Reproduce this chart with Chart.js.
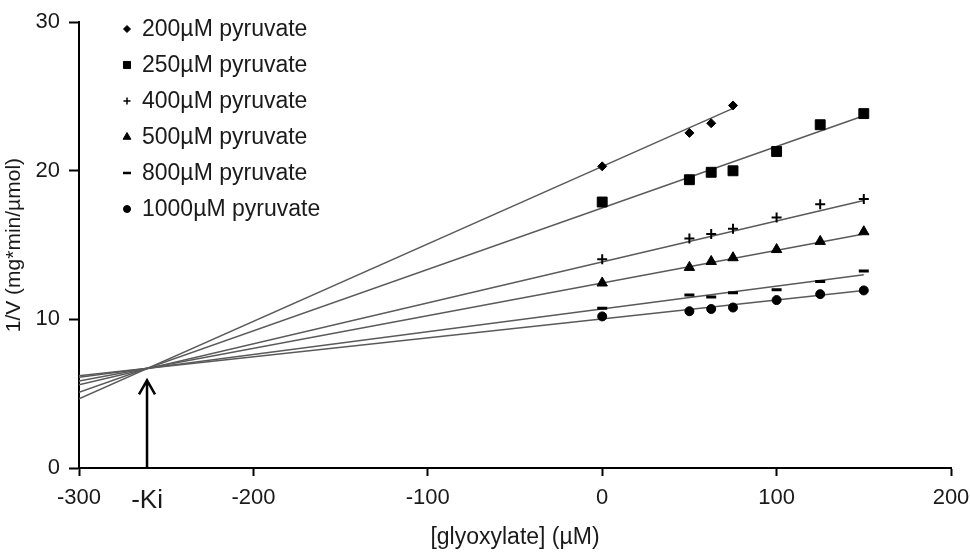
<!DOCTYPE html>
<html>
<head>
<meta charset="utf-8">
<script src="https://cdn.jsdelivr.net/npm/chart.js@4"></script>
<style>
  html, body { margin: 0; padding: 0; background: #fff; }
  #wrap { width: 970px; height: 554px; }
</style>
</head>
<body>
<div id="wrap"><canvas id="chart" width="970" height="554"></canvas></div>
<script>
// glyoxylate concentrations (µM)
const glyoxylate = [0, 50, 62.5, 75, 100, 125, 150];

// measured 1/V values per pyruvate concentration
const pyr200 = [20.3, 22.55, 23.2, 24.4];
const pyr250 = [17.9, 19.4, 19.9, 20.0, 21.3, 23.1, 23.85];
const pyr400 = [14.05, 15.45, 15.75, 16.1, 16.85, 17.75, 18.1];
const pyr500 = [12.45, 13.5, 13.9, 14.15, 14.7, 15.25, 15.9];
const pyr800 = [10.75, 11.65, 11.5, 11.8, 12.0, 12.55, 13.25];
const pyr1000 = [10.2, 10.55, 10.7, 10.8, 11.3, 11.7, 11.95];

// fitted lines (x range and end values)
const fitX = [-300, 150];
const fitX200 = [-300, 75];
const fit200 = [4.65, 24.2];
const fit250 = [5.1, 23.7];
const fit400 = [5.6, 18.0];
const fit500 = [5.85, 15.75];
const fit800 = [6.1, 13.0];
const fit1000 = [6.2, 11.95];

// -Ki arrow
const kiX = -261;
const arrowTop = 5.9;

const labels = ['200µM pyruvate', '250µM pyruvate', '400µM pyruvate',
                '500µM pyruvate', '800µM pyruvate', '1000µM pyruvate'];
const xTicks = [-300, -200, -100, 0, 100, 200];

const FONT = '"Liberation Sans", Arial, sans-serif';
const INK = '#1a1a1a';
const pts = (ys) => ys.map((y, i) => ({ x: glyoxylate[i], y }));
const line = (xs, ys) => xs.map((x, i) => ({ x, y: ys[i] }));

const styles = [
  { pointStyle: 'rectRot', radius: 4.5, bw: 1, leg: 3.5 },
  { pointStyle: 'rect', radius: 7, bw: 1, leg: 5 },
  { pointStyle: 'cross', radius: 5, bw: 2, leg: 3.5 },
  { pointStyle: 'triangle', radius: 6, bw: 1, leg: 4.5 },
  { pointStyle: 'line', radius: 5, bw: 3, leg: 4 },
  { pointStyle: 'circle', radius: 4.5, bw: 1, leg: 3.5 }
];
const series = [pyr200, pyr250, pyr400, pyr500, pyr800, pyr1000];
const fits = [line(fitX200, fit200), line(fitX, fit250), line(fitX, fit400),
              line(fitX, fit500), line(fitX, fit800), line(fitX, fit1000)];

const datasets = [];
series.forEach((s, i) => {
  datasets.push({
    label: labels[i], data: pts(s), showLine: false, order: 0,
    pointStyle: styles[i].pointStyle, pointRadius: styles[i].radius,
    pointBorderWidth: styles[i].bw, backgroundColor: '#000', borderColor: '#000'
  });
});
fits.forEach((f) => {
  datasets.push({
    label: '', data: f, showLine: true, order: 1, pointRadius: 0,
    borderColor: '#5a5a5a', borderWidth: 1.5
  });
});

// legend inside plot + Ki arrow
const extras = {
  id: 'extras',
  afterDatasetsDraw(chart) {
    const ctx = chart.ctx;
    const xs = chart.scales.x, ys = chart.scales.y;
    ctx.save();
    // arrow
    const ax = xs.getPixelForValue(kiX);
    const y0 = ys.getPixelForValue(0);
    const y1 = ys.getPixelForValue(arrowTop);
    ctx.strokeStyle = '#000';
    ctx.lineWidth = 2.5;
    ctx.beginPath();
    ctx.moveTo(ax, y0);
    ctx.lineTo(ax, y1);
    ctx.moveTo(ax - 8, y1 + 14);
    ctx.lineTo(ax, y1);
    ctx.lineTo(ax + 8, y1 + 14);
    ctx.stroke();
    // legend
    ctx.font = '23px ' + FONT;
    ctx.textBaseline = 'middle';
    labels.forEach((t, i) => {
      const yy = 29 + i * 36;
      ctx.fillStyle = '#000';
      ctx.strokeStyle = '#000';
      ctx.lineWidth = styles[i].pointStyle === 'line' ? 2.5 : (styles[i].pointStyle === 'cross' ? 1.5 : 1);
      Chart.helpers.drawPoint(ctx, { pointStyle: styles[i].pointStyle, radius: styles[i].leg, rotation: 0, borderWidth: ctx.lineWidth }, 127, yy);
      ctx.fillStyle = INK;
      ctx.fillText(t, 142, yy + 1);
    });
    ctx.restore();
  }
};

new Chart(document.getElementById('chart'), {
  type: 'scatter',
  data: { datasets },
  plugins: [extras],
  options: {
    responsive: false,
    animation: false,
    layout: { padding: { top: 13, right: 19, left: 0, bottom: 0 } },
    plugins: { legend: { display: false }, tooltip: { enabled: false } },
    scales: {
      x: {
        type: 'linear', min: -300, max: 200,
        afterFit(scale) { scale.height = 86; scale.paddingRight = 0; scale.paddingLeft = 0; },
        afterBuildTicks(scale) {
          scale.ticks = xTicks.concat([kiX]).sort((a, b) => a - b).map(v => ({ value: v }));
        },
        border: { color: '#000', width: 2 },
        grid: {
          drawOnChartArea: false, drawTicks: true, tickLength: 8,
          tickColor: (c) => (c.tick && c.tick.value === kiX ? 'rgba(0,0,0,0)' : '#000'),
          tickWidth: 2
        },
        ticks: {
          autoSkip: false, maxRotation: 0, color: INK, padding: 9,
          font: (c) => ({ family: FONT, size: c.tick && c.tick.value === kiX ? 26 : 22 }),
          callback: (v) => (v === kiX ? '-Ki' : v)
        },
        title: {
          display: true, text: '[glyoxylate] (µM)', color: INK,
          font: { family: FONT, size: 23 }, padding: { top: 0, bottom: 3 }
        }
      },
      y: {
        type: 'linear', min: 0, max: 30,
        afterFit(scale) { scale.width = 79; },
        border: { color: '#000', width: 2 },
        grid: { drawOnChartArea: false, drawTicks: true, tickLength: 10, tickColor: '#000', tickWidth: 2 },
        ticks: { stepSize: 10, color: INK, padding: 9, font: { family: FONT, size: 22 } },
        title: {
          display: true, text: '1/V (mg*min/µmol)', color: INK,
          font: { family: FONT, size: 21 }, padding: { top: 2, bottom: 0 }
        }
      }
    }
  }
});
</script>
</body>
</html>
